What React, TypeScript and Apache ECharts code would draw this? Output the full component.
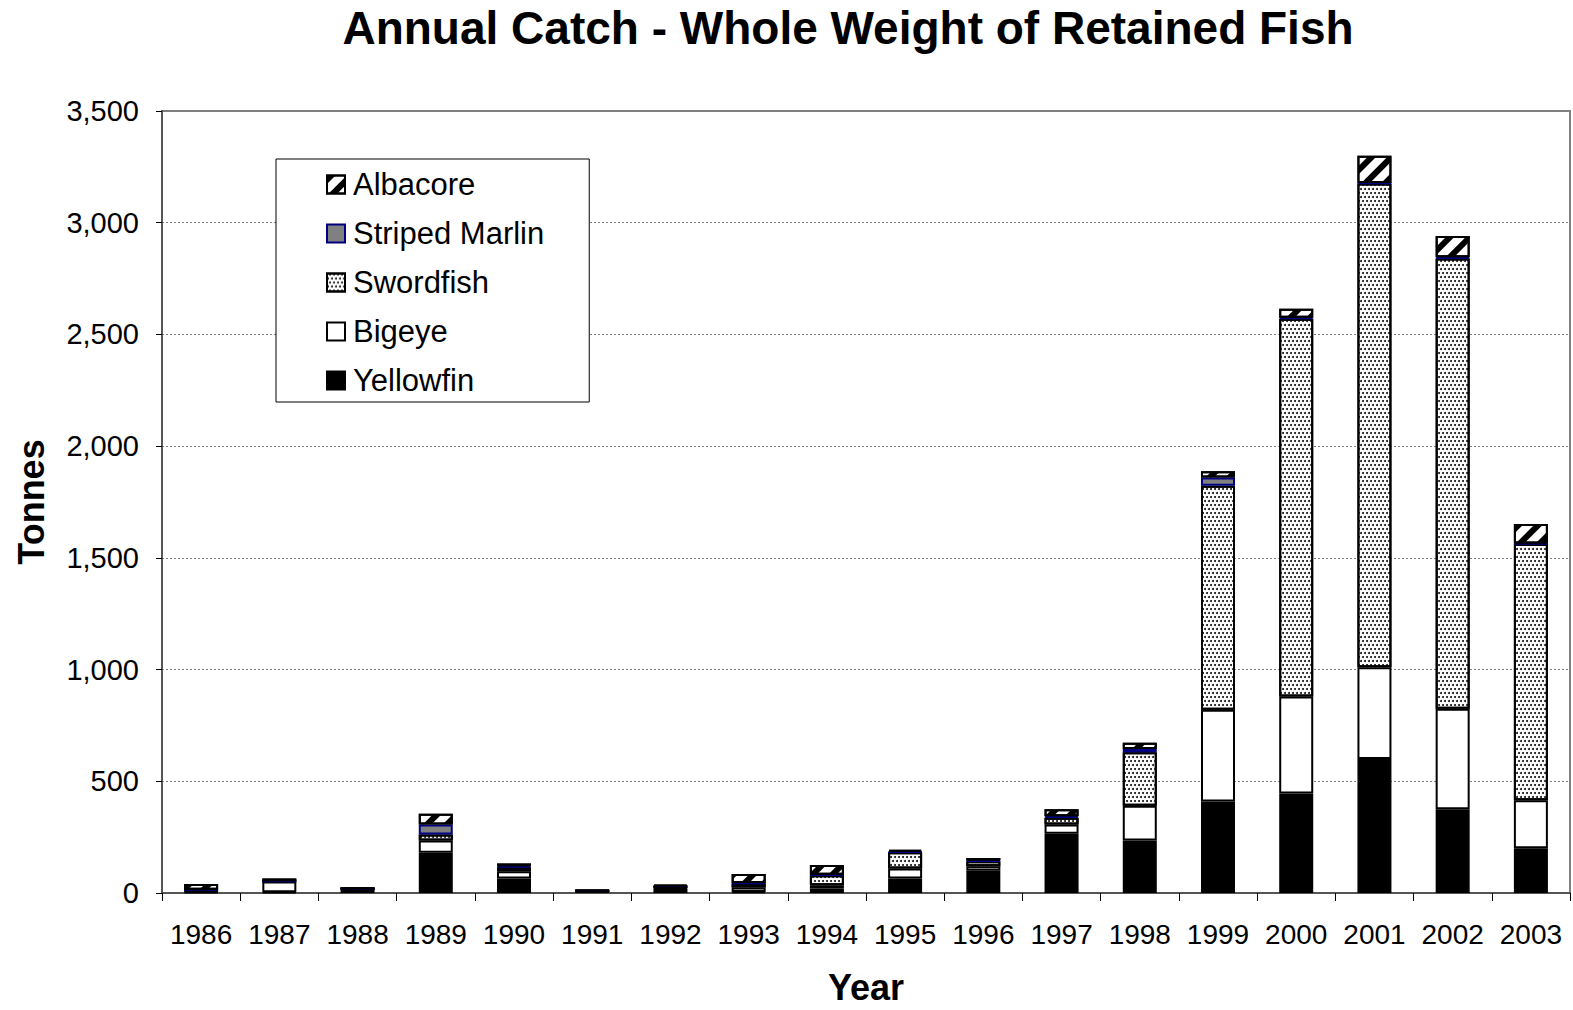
import React, { useEffect, useRef } from "react";
import * as echarts from "echarts";

const years = ["1986","1987","1988","1989","1990","1991","1992","1993","1994","1995","1996","1997","1998","1999","2000","2001","2002","2003"];
const yellowfin = [3, 3, 18, 180, 65, 10, 18, 5, 20, 65, 100, 265, 235, 410, 445, 600, 375, 200];
const bigeye = [10, 48, 2, 55, 32, 0, 3, 20, 15, 45, 20, 42, 155, 410, 435, 410, 450, 215];
const swordfish = [2, 2, 0, 27, 18, 0, 10, 18, 45, 72, 22, 30, 240, 1003, 1690, 2165, 2015, 1147];
const stripedMarlin = [0, 0, 0, 45, 5, 0, 0, 2, 2, 3, 3, 6, 15, 37, 5, 3, 5, 2];
const albacore = [25, 12, 2, 48, 12, 2, 6, 40, 43, 8, 12, 32, 28, 28, 40, 122, 95, 88];
const legendOrder = ["Albacore", "Striped Marlin", "Swordfish", "Bigeye", "Yellowfin"];

const FONT = "'Liberation Sans', Arial, sans-serif";

export default function App() {
  const ref = useRef<HTMLDivElement>(null);
  useEffect(() => {
    if (!ref.current) return;
    const chart = echarts.init(ref.current, undefined, { renderer: "svg" });
    const base = { type: "bar", stack: "total", barWidth: 34 };
    chart.setOption({
      animation: false,
      backgroundColor: "#fff",
      textStyle: { fontFamily: FONT },
      title: {
        text: "Annual Catch - Whole Weight of Retained Fish",
        left: 843,
        top: 0,
        textAlign: "center",
        textStyle: { fontSize: 46, fontWeight: "bold", color: "#000", fontFamily: FONT },
      },
      legend: {
        orient: "vertical",
        left: 276,
        top: 159,
        data: legendOrder,
        icon: "rect",
        itemWidth: 18,
        itemHeight: 18,
        itemGap: 18,
        padding: [10, 45, 6, 50],
        borderColor: "#000",
        borderWidth: 1,
        backgroundColor: "#fff",
        textStyle: { fontSize: 31, color: "#000", fontFamily: FONT, padding: [0, 0, 0, 3] },
      },
      grid: {
        left: 162,
        top: 111,
        right: 3,
        bottom: 114,
        show: true,
        borderColor: "#808080",
        borderWidth: 2,
        backgroundColor: "transparent",
      },
      xAxis: {
        type: "category",
        data: years,
        name: "Year",
        nameLocation: "middle",
        nameGap: 76,
        nameTextStyle: { fontSize: 36, fontWeight: "bold", color: "#000", fontFamily: FONT },
        axisLine: { lineStyle: { color: "#555", width: 2 } },
        axisTick: { show: true, interval: 0, length: 8, lineStyle: { color: "#000" } },
        axisLabel: { fontSize: 28, color: "#000", margin: 27, interval: 0 },
      },
      yAxis: {
        type: "value",
        min: 0,
        max: 3500,
        interval: 500,
        name: "Tonnes",
        nameLocation: "middle",
        nameGap: 113,
        nameTextStyle: { fontSize: 36, fontWeight: "bold", color: "#000", fontFamily: FONT },
        axisLine: { show: true, lineStyle: { color: "#555", width: 2 } },
        axisTick: { show: true, length: 6, lineStyle: { color: "#000" } },
        axisLabel: {
          fontSize: 29,
          color: "#000",
          margin: 23,
          formatter: (v: number) => v.toLocaleString("en-US"),
        },
        splitLine: { show: true, lineStyle: { color: "#808080", width: 1, type: [2, 2] } },
      },
      series: [
        {
          ...base,
          name: "Yellowfin",
          data: yellowfin,
          itemStyle: { color: "#000", borderColor: "#000", borderWidth: 1.5 },
        },
        {
          ...base,
          name: "Bigeye",
          data: bigeye,
          itemStyle: { color: "#fff", borderColor: "#000", borderWidth: 2 },
        },
        {
          ...base,
          name: "Swordfish",
          data: swordfish,
          itemStyle: {
            color: "#fff",
            borderColor: "#000",
            borderWidth: 2,
            decal: {
              symbol: "circle",
              symbolSize: 1,
              dashArrayX: [[2, 2], [0, 2, 2, 0]],
              dashArrayY: [2, 2],
              color: "#111",
              backgroundColor: "#f2f2f2",
            },
          },
        },
        {
          ...base,
          name: "Striped Marlin",
          data: stripedMarlin,
          itemStyle: { color: "#808080", borderColor: "#000080", borderWidth: 2 },
        },
        {
          ...base,
          name: "Albacore",
          data: albacore,
          itemStyle: {
            color: "#fff",
            borderColor: "#000",
            borderWidth: 2,
            decal: {
              symbol: "rect",
              symbolSize: 1,
              dashArrayX: [[1, 0]],
              dashArrayY: [6, 8],
              rotation: -Math.PI / 4,
              color: "#000",
              backgroundColor: "#fff",
            },
          },
        },
      ],
    });
    return () => chart.dispose();
  }, []);
  return (
    <div
      ref={ref}
      style={{ position: "fixed", left: 0, top: 0, width: 1573, height: 1010 }}
    />
  );
}
